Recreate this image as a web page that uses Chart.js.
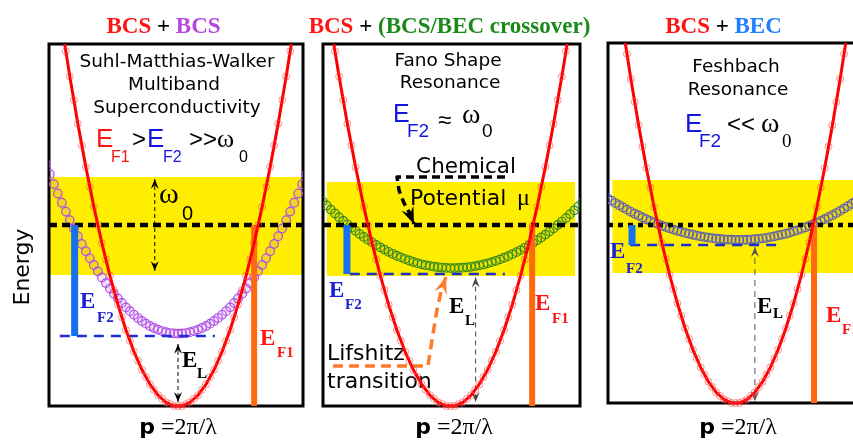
<!DOCTYPE html>
<html>
<head>
<meta charset="utf-8">
<title>BCS band dispersions</title>
<script src="https://cdn.jsdelivr.net/npm/chart.js@4.4.1/dist/chart.umd.min.js"></script>
<style>
  html, body { margin: 0; padding: 0; background: #fff; overflow: hidden; }
  #stage { position: relative; width: 853px; height: 441px; overflow: hidden; background: #fff; }
  #stage canvas { position: absolute; top: 0; }
</style>
</head>
<body>
<div id="stage">
  <canvas id="p1" width="312" height="441" style="left:0px"></canvas>
  <canvas id="p2" width="294" height="441" style="left:306px"></canvas>
  <canvas id="p3" width="284" height="441" style="left:596px"></canvas>
</div>
<script>
// ---- data (momentum in units of k_F1, energy in units of the chemical potential) ----
const momentum = [-1.65,-1.60,-1.55,-1.50,-1.45,-1.40,-1.35,-1.30,-1.25,-1.20,-1.15,-1.10,-1.05,-1.00,
  -0.95,-0.90,-0.85,-0.80,-0.75,-0.70,-0.65,-0.60,-0.55,-0.50,-0.45,-0.40,-0.35,-0.30,-0.25,-0.20,-0.15,-0.10,-0.05,
  0.00,0.05,0.10,0.15,0.20,0.25,0.30,0.35,0.40,0.45,0.50,0.55,0.60,0.65,0.70,0.75,0.80,0.85,0.90,0.95,
  1.00,1.05,1.10,1.15,1.20,1.25,1.30,1.35,1.40,1.45,1.50,1.55,1.60,1.65];

// first (BCS) band, same in every panel
const bandOne = [2.72,2.56,2.40,2.25,2.10,1.96,1.82,1.69,1.56,1.44,1.32,1.21,1.10,1.00,
  0.90,0.81,0.72,0.64,0.56,0.49,0.42,0.36,0.30,0.25,0.20,0.16,0.12,0.09,0.06,0.04,0.02,0.01,0.00,
  0.00,0.00,0.01,0.02,0.04,0.06,0.09,0.12,0.16,0.20,0.25,0.30,0.36,0.42,0.49,0.56,0.64,0.72,0.81,0.90,
  1.00,1.10,1.21,1.32,1.44,1.56,1.69,1.82,1.96,2.10,2.25,2.40,2.56,2.72];

// second band: multiband BCS
const bandMultiband = [1.337,1.281,1.226,1.174,1.123,1.074,1.027,0.981,0.938,0.895,0.855,0.816,0.779,0.744,
  0.710,0.679,0.649,0.620,0.594,0.569,0.545,0.524,0.504,0.486,0.470,0.455,0.442,0.431,0.422,0.414,0.408,0.403,0.401,
  0.400,0.401,0.403,0.408,0.414,0.422,0.431,0.442,0.455,0.470,0.486,0.504,0.524,0.545,0.569,0.594,0.620,0.649,0.679,0.710,
  0.744,0.779,0.816,0.855,0.895,0.938,0.981,1.027,1.074,1.123,1.174,1.226,1.281,1.337];

// second band: BCS/BEC crossover
const bandCrossover = [1.179,1.154,1.131,1.108,1.085,1.064,1.043,1.023,1.004,0.985,0.968,0.950,0.934,0.919,
  0.904,0.890,0.876,0.864,0.852,0.841,0.830,0.821,0.812,0.804,0.796,0.789,0.783,0.778,0.774,0.770,0.767,0.765,0.763,
  0.762,0.762,0.763,0.764,0.766,0.769,0.773,0.777,0.782,0.788,0.795,0.802,0.810,0.819,0.828,0.839,0.850,0.861,0.874,0.887,
  0.901,0.916,0.931,0.947,0.964,0.982,1.000,1.019,1.039,1.060,1.081,1.103,1.126,1.149];

// second band: BEC
const bandBEC = [1.150,1.137,1.123,1.111,1.098,1.086,1.074,1.063,1.053,1.042,1.032,1.023,1.013,1.005,
  0.996,0.989,0.981,0.974,0.967,0.961,0.955,0.950,0.945,0.940,0.936,0.932,0.929,0.926,0.923,0.921,0.919,0.918,0.917,
  0.916,0.916,0.916,0.917,0.918,0.920,0.922,0.925,0.928,0.932,0.936,0.941,0.946,0.951,0.957,0.964,0.971,0.978,0.986,0.995,
  1.004,1.013,1.023,1.033,1.044,1.055,1.067,1.079,1.092,1.105,1.119,1.133,1.147,1.162];

const chemicalPotential = 1.0;
const omegaLow   = [0.724, 0.718, 0.730];   // lower edge of the pairing window
const omegaHigh  = [1.265, 1.238, 1.253];   // upper edge of the pairing window
const windowFrom = [-1.61, -1.50, -1.59];
const windowTo   = [1.56, 1.51, 1.80];
const edgeLevel  = [0.387, 0.729, 0.888];   // bottom of the second band (E_F2 reference)
const edgeFrom   = [-1.475, -1.22, -1.36];
const edgeTo     = [0.46, 0.66, 0.60];
const kF2Bar     = [-1.29, -1.255, -1.335]; // momentum of the E_F2 bar
const kF1Bar     = [0.95, 0.99, 1.013];     // momentum of the E_F1 bar
const gapArrowK  = [0.00, 0.305, 0.25];     // E_L arrow position
const gapArrowTop = [0.343, 0.71, 0.876];
const gapArrowBottom = [0.022, 0.022, 0.01];

// ---- styling ----
const RED = '#ff1414', PURPLE = '#b447e0', GREEN = '#1b8a1b', BEC_BLUE = '#1f7fff';
const LABEL_BLUE = '#1a22d2', FORMULA_BLUE = '#1515e0';
const BAR_BLUE = '#1670f0', BAR_ORANGE = '#ff6a10', YELLOW = '#ffee00';
const SANS = '"DejaVu Sans", sans-serif';
const ARIAL = '"Liberation Sans", Arial, sans-serif';
const SERIF = '"Liberation Serif", "Times New Roman", serif';
const HEAD = `bold 23px ${SERIF}`;
const TITLE = `18.5px ${SANS}`;
const LBL = `bold 23px ${SERIF}`;
const SUB = `bold 15px ${SERIF}`;
const axisLabel = (x) => ({ runs: [['p', '#000', `bold 22px ${SANS}`], [' =2π/λ', '#000', `24px ${SERIF}`]], x, y: 434, a: 'center' });

function arrowHead(ctx, tip, from, len, half, color) {
  const ang = Math.atan2(tip[1] - from[1], tip[0] - from[0]);
  ctx.save();
  ctx.translate(tip[0], tip[1]);
  ctx.rotate(ang);
  ctx.setLineDash([]);
  ctx.beginPath();
  ctx.moveTo(0, 0);
  ctx.lineTo(-len, -half);
  ctx.lineTo(-len * 0.62, 0);
  ctx.lineTo(-len, half);
  ctx.closePath();
  ctx.fillStyle = color;
  ctx.fill();
  ctx.restore();
}

function drawText(ctx, item, dx) {
  ctx.save();
  ctx.textBaseline = 'alphabetic';
  const runs = item.runs || [[item.t, item.c || '#000', item.f]];
  const widths = runs.map(r => { ctx.font = r[2] || item.f; return ctx.measureText(r[0]).width; });
  const total = widths.reduce((s, w) => s + w, 0);
  let x = item.x - dx, y = item.y;
  if (item.rot) { ctx.translate(x, y); ctx.rotate(-Math.PI / 2); x = 0; y = 0; }
  let cx = item.a === 'center' ? x - total / 2 : x;
  runs.forEach((r, i) => {
    ctx.font = r[2] || item.f;
    ctx.fillStyle = r[1] || '#000';
    ctx.fillText(r[0], cx, y);
    cx += widths[i];
  });
  ctx.restore();
}

// annotations, arrows and the panel frame
const panelNotes = {
  id: 'panelNotes',
  beforeDatasetsDraw(chart, args, opts) {
    const ctx = chart.ctx, a = chart.chartArea;
    const sx = chart.scales.x, sy = chart.scales.y;
    (opts.arrows || []).forEach(ar => {
      const pts = ar.pts.map(([p, e]) => [sx.getPixelForValue(p), sy.getPixelForValue(e)]);
      ctx.save();
      ctx.strokeStyle = ar.c; ctx.lineWidth = ar.w; ctx.setLineDash(ar.dash); ctx.lineJoin = 'round';
      ctx.beginPath();
      pts.forEach((pt, i) => i ? ctx.lineTo(pt[0], pt[1]) : ctx.moveTo(pt[0], pt[1]));
      ctx.stroke();
      const n = pts.length;
      if (ar.end) arrowHead(ctx, pts[n - 1], pts[n - 2], ar.len, ar.half, ar.c);
      if (ar.start) arrowHead(ctx, pts[0], pts[1], ar.len, ar.half, ar.c);
      ctx.restore();
    });
    (opts.texts || []).forEach(t => drawText(ctx, t, opts.left));
    ctx.save();
    ctx.setLineDash([]);
    ctx.lineWidth = 3;
    ctx.strokeStyle = '#000';
    ctx.strokeRect(a.left, a.top, a.right - a.left, a.bottom - a.top);
    ctx.restore();
  }
};

function datasetsFor(i, pn) {
  const curve = ys => momentum.map((p, k) => ({ x: p, y: ys[k] }));
  const none = 'rgba(0,0,0,0)';
  return [
    { data: [{ x: windowFrom[i], y: omegaHigh[i] }, { x: windowTo[i], y: omegaHigh[i] }],
      borderColor: none, borderWidth: 1, pointRadius: 0, fill: { value: omegaLow[i] }, backgroundColor: YELLOW, order: 10 },
    { data: curve(pn.upper), borderColor: pn.upperShade, borderWidth: 7, pointRadius: 4.3, pointBorderWidth: 1.2,
      pointBorderColor: pn.upperColor, pointBackgroundColor: none, order: 6 },
    { data: [{ x: edgeFrom[i], y: edgeLevel[i] }, { x: edgeTo[i], y: edgeLevel[i] }],
      borderColor: '#1b2dd4', borderWidth: 2.5, borderDash: [10, 7], pointRadius: 0, order: 5 },
    { data: [{ x: pn.xMin, y: chemicalPotential }, { x: pn.xMax, y: chemicalPotential }],
      borderColor: '#000', borderWidth: 4.5, borderDash: pn.muDash, pointRadius: 0, order: 4 },
    { data: [{ x: kF2Bar[i], y: chemicalPotential }, { x: kF2Bar[i], y: edgeLevel[i] }],
      borderColor: BAR_BLUE, borderWidth: 7, pointRadius: 0, order: 3 },
    { data: [{ x: kF1Bar[i], y: chemicalPotential }, { x: kF1Bar[i], y: 0 }],
      borderColor: BAR_ORANGE, borderWidth: 6, pointRadius: 0, order: 2 },
    { data: curve(bandOne), borderColor: '#ff0000', borderWidth: 3, pointRadius: 3.5, pointBorderWidth: 1,
      pointBorderColor: 'rgba(255,70,70,0.6)', pointBackgroundColor: none,
      clip: { left: 6, right: 6, top: 0, bottom: 8 }, order: 1 }
  ];
}

function gapArrow(i, color, dash) {
  return { pts: [[gapArrowK[i], gapArrowTop[i]], [gapArrowK[i], gapArrowBottom[i]]],
           c: color, w: 1, dash, start: true, end: true, len: 10, half: 4 };
}

const panels = [
  {
    canvas: 'p1', left: 0, pad: { left: 49, right: 9, top: 44, bottom: 35 },
    xMin: -1.61, xMax: 1.56, yMax: 2.0, upper: bandMultiband,
    upperColor: '#b04ee6', upperShade: 'rgba(176,78,230,0.16)', muDash: [8, 5],
    arrows: [
      { pts: [[-0.29, 1.254], [-0.29, 0.746]], c: '#000', w: 1, dash: [4, 3], start: true, end: true, len: 10, half: 4 },
      gapArrow(0, '#000', [4, 3])
    ],
    texts: [
      { runs: [['BCS', RED], [' + ', '#000'], ['BCS', PURPLE]], f: HEAD, x: 163.5, y: 33, a: 'center' },
      { t: 'Suhl-Matthias-Walker', f: TITLE, x: 177, y: 67, a: 'center' },
      { t: 'Multiband', f: TITLE, x: 174, y: 90, a: 'center' },
      { t: 'Superconductivity', f: TITLE, x: 177, y: 113, a: 'center' },
      { t: 'E', f: `26px ${ARIAL}`, c: RED, x: 96, y: 147 },
      { t: 'F1', f: `16px ${ARIAL}`, c: RED, x: 111, y: 162 },
      { t: '>', f: `24px ${ARIAL}`, x: 132, y: 147 },
      { t: 'E', f: `26px ${ARIAL}`, c: FORMULA_BLUE, x: 147, y: 147 },
      { t: 'F2', f: `16px ${ARIAL}`, c: FORMULA_BLUE, x: 163, y: 162 },
      { t: '>>', f: `24px ${ARIAL}`, x: 189, y: 147 },
      { t: 'ω', f: `26px ${SERIF}`, x: 217, y: 147 },
      { t: '0', f: `16px ${ARIAL}`, x: 239, y: 162 },
      { t: 'ω', f: `30px ${SERIF}`, x: 159, y: 203 },
      { t: '0', f: `20px ${ARIAL}`, x: 182, y: 220 },
      { t: 'E', f: LBL, c: LABEL_BLUE, x: 80, y: 308 },
      { t: 'F2', f: SUB, c: LABEL_BLUE, x: 97, y: 322 },
      { t: 'E', f: LBL, x: 182, y: 367 },
      { t: 'L', f: SUB, x: 197, y: 378 },
      { t: 'E', f: LBL, c: RED, x: 260, y: 345 },
      { t: 'F1', f: SUB, c: RED, x: 277, y: 357 },
      { t: 'Energy', f: `22px ${SANS}`, x: 29, y: 267, a: 'center', rot: true },
      axisLabel(178)
    ]
  },
  {
    canvas: 'p2', left: 306, pad: { left: 17, right: 20, top: 44, bottom: 35 },
    xMin: -1.545, xMax: 1.57, yMax: 2.0, upper: bandCrossover,
    upperColor: '#3a8a1a', upperShade: 'rgba(58,138,26,0.16)', muDash: [8, 5],
    arrows: [
      { pts: [[0.661, 1.265], [-0.648, 1.265], [-0.624, 1.193], [-0.564, 1.122], [-0.503, 1.072], [-0.442, 1.006]],
        c: '#000', w: 3.5, dash: [8, 5], end: true, len: 17, half: 6.5 },
      { pts: [[-1.424, 0.221], [-0.273, 0.221], [-0.224, 0.365], [-0.164, 0.530], [-0.115, 0.630], [-0.055, 0.713]],
        c: '#ff7a2a', w: 3.5, dash: [10, 6], end: true, len: 17, half: 6.5 },
      gapArrow(1, '#444', [5, 4])
    ],
    texts: [
      { runs: [['BCS', RED], [' + ', '#000'], ['(BCS/BEC crossover)', GREEN]], f: HEAD, x: 449.5, y: 33, a: 'center' },
      { t: 'Fano Shape', f: TITLE, x: 448, y: 66, a: 'center' },
      { t: 'Resonance', f: TITLE, x: 450, y: 88, a: 'center' },
      { t: 'E', f: `25px ${ARIAL}`, c: FORMULA_BLUE, x: 393, y: 122 },
      { t: 'F2', f: `19px ${ARIAL}`, c: FORMULA_BLUE, x: 407, y: 137 },
      { t: '≈', f: `24px ${ARIAL}`, x: 438, y: 128 },
      { t: 'ω', f: `28px ${SERIF}`, x: 462, y: 123 },
      { t: '0', f: `19px ${ARIAL}`, x: 482, y: 137 },
      { t: 'Chemical', f: `21.5px ${SANS}`, x: 466, y: 173, a: 'center' },
      { t: 'Potential', f: `22px ${SANS}`, x: 410, y: 205 },
      { t: 'μ', f: `24px ${SERIF}`, x: 517, y: 205 },
      { t: 'E', f: LBL, c: LABEL_BLUE, x: 329, y: 297 },
      { t: 'F2', f: SUB, c: LABEL_BLUE, x: 345, y: 309 },
      { t: 'E', f: LBL, x: 449, y: 313 },
      { t: 'L', f: SUB, x: 465, y: 325 },
      { t: 'E', f: LBL, c: RED, x: 535, y: 310 },
      { t: 'F1', f: SUB, c: RED, x: 552, y: 323 },
      { t: 'Lifshitz', f: `22px ${SANS}`, x: 327, y: 360 },
      { t: 'transition', f: `22px ${SANS}`, x: 327, y: 388 },
      axisLabel(454)
    ]
  },
  {
    canvas: 'p3', left: 596, pad: { left: 12, right: 10, top: 43, bottom: 38 },
    xMin: -1.645, xMax: 1.735, yMax: 2.022, upper: bandBEC,
    upperColor: '#5f5fae', upperShade: 'rgba(95,95,174,0.18)', muDash: [5, 5],
    arrows: [ gapArrow(2, '#555', [6, 5]) ],
    texts: [
      { runs: [['BCS', RED], [' + ', '#000'], ['BEC', BEC_BLUE]], f: HEAD, x: 723.5, y: 33, a: 'center' },
      { t: 'Feshbach', f: TITLE, x: 736, y: 72, a: 'center' },
      { t: 'Resonance', f: TITLE, x: 738, y: 95, a: 'center' },
      { t: 'E', f: `26px ${ARIAL}`, c: FORMULA_BLUE, x: 685, y: 132 },
      { t: 'F2', f: `19px ${ARIAL}`, c: FORMULA_BLUE, x: 699, y: 147 },
      { t: '<<', f: `24px ${ARIAL}`, x: 727, y: 132 },
      { t: 'ω', f: `28px ${SERIF}`, x: 761, y: 132 },
      { t: '0', f: `19px ${SERIF}`, x: 782, y: 147 },
      { t: 'E', f: LBL, c: LABEL_BLUE, x: 610, y: 258 },
      { t: 'F2', f: SUB, c: LABEL_BLUE, x: 626, y: 273 },
      { t: 'E', f: LBL, x: 757, y: 313 },
      { t: 'L', f: SUB, x: 773, y: 318 },
      { t: 'E', f: LBL, c: RED, x: 826, y: 322 },
      { t: 'F1', f: SUB, c: RED, x: 842, y: 334 },
      axisLabel(738)
    ]
  }
];

panels.forEach((pn, i) => {
  new Chart(document.getElementById(pn.canvas), {
    type: 'line',
    data: { datasets: datasetsFor(i, pn) },
    options: {
      responsive: false,
      animation: false,
      devicePixelRatio: 1,
      events: [],
      layout: { padding: pn.pad },
      scales: {
        x: { type: 'linear', display: false, min: pn.xMin, max: pn.xMax },
        y: { type: 'linear', display: false, min: 0, max: pn.yMax }
      },
      plugins: {
        legend: { display: false },
        tooltip: { enabled: false },
        filler: { drawTime: 'beforeDatasetsDraw' },
        panelNotes: { left: pn.left, texts: pn.texts, arrows: pn.arrows }
      }
    },
    plugins: [panelNotes]
  });
});
</script>
</body>
</html>
